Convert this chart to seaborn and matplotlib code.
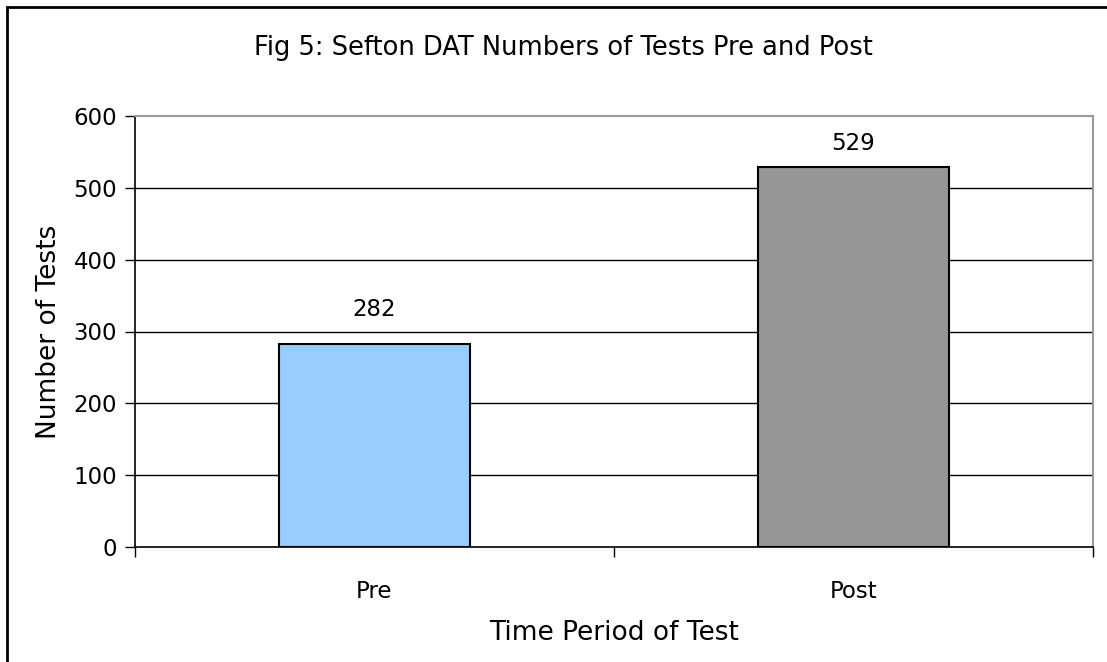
import matplotlib
matplotlib.use("Agg")
import matplotlib.pyplot as plt
import seaborn as sns
import pandas as pd
from matplotlib.patches import Rectangle

categories = ["Pre", "Post"]
values = [282, 529]
colors = ["#99CCFF", "#969696"]
yticks = [0, 100, 200, 300, 400, 500, 600]
label_offsets_pt = [17, 8.5]  # vertical offset of value labels (style)

sns.set_style("white")
plt.rcParams['font.family'] = ['DejaVu Sans']
plt.rcParams['text.color'] = 'black'
plt.rcParams['axes.labelcolor'] = 'black'

W, H = 1107, 662
fig = plt.figure(figsize=(W/100, H/100), dpi=100)
ax = fig.add_axes([135/W, 1-547/H, (1093-135)/W, (547-116)/H])

df = pd.DataFrame({"period": categories, "tests": values})
sns.barplot(data=df, x="period", y="tests", hue="period", palette=colors, saturation=1,
            width=0.4, edgecolor="black", linewidth=1.5, legend=False, ax=ax, zorder=3)

ax.set_ylim(0, 600)
ax.set_xlim(-0.5, 1.5)
ax.set_yticks(yticks)
ax.set_yticklabels([str(t) for t in yticks], fontsize=16.5)
for t in yticks[1:-1]:
    ax.axhline(t, color="black", linewidth=1.0, zorder=1)

# x ticks at category boundaries, labels at centers
ax.set_xticks([-0.5, 0.5, 1.5])
ax.set_xticklabels([])
ax.set_xticks([0, 1], minor=True)
ax.set_xticklabels(categories, minor=True, fontsize=16.5)
ax.tick_params(axis="x", which="major", bottom=True, direction="out", length=7, width=1, color="black")
ax.tick_params(axis="x", which="minor", bottom=True, length=0, pad=24)
ax.tick_params(axis="y", left=True, direction="out", length=7, width=1, color="black", pad=6)
ax.tick_params(axis="both", which="both", labelcolor="black")

for side in ["left", "bottom"]:
    ax.spines[side].set_color("black")
    ax.spines[side].set_linewidth(1.2)
for side in ["top", "right"]:
    ax.spines[side].set_visible(True)
    ax.spines[side].set_color("#999999")
    ax.spines[side].set_linewidth(1.5)

for i, v in enumerate(values):
    ax.annotate(str(v), xy=(i, v), xytext=(0, label_offsets_pt[i]), textcoords="offset points",
                ha="center", va="bottom", fontsize=16.5)

ax.set_xlabel("Time Period of Test", fontsize=19, labelpad=12)
ax.set_ylabel("Number of Tests", fontsize=19, labelpad=8)
fig.text(563/W, 1-48/H, "Fig 5: Sefton DAT Numbers of Tests Pre and Post",
         ha="center", va="center", fontsize=18.5)

fig.patches.append(Rectangle((7/W, -0.1), 1.2, 1-7/H+0.1, transform=fig.transFigure,
                             fill=False, edgecolor="black", linewidth=2))

fig.savefig("out.png", dpi=100)
